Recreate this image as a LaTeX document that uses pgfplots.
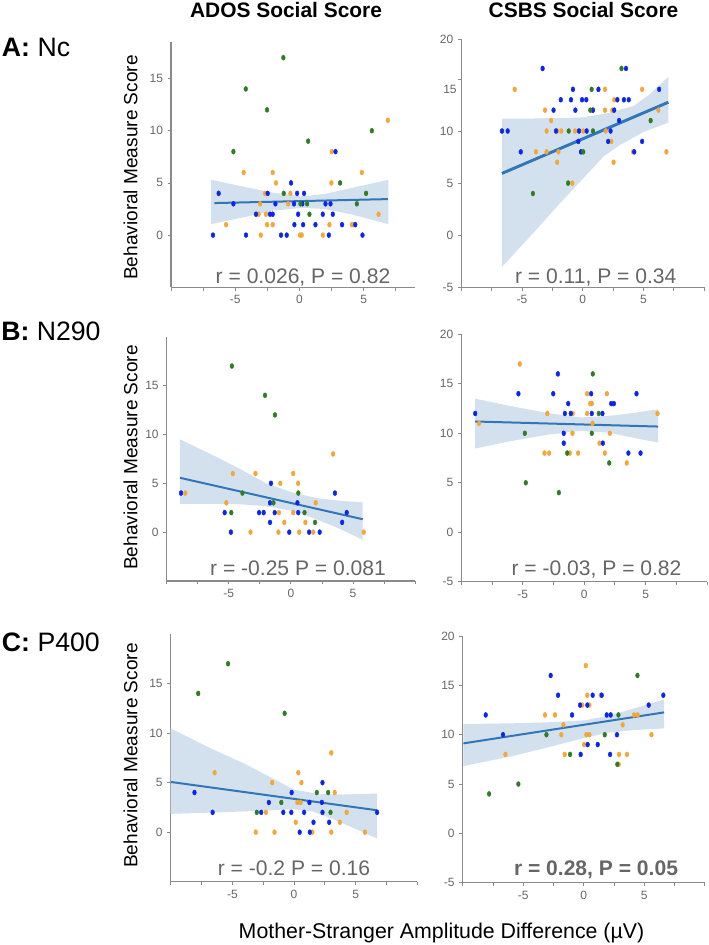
\documentclass[border=0pt]{standalone}
\usepackage{pgfplots}
\pgfplotsset{compat=1.18}
\usepackage{fontspec}
\setmainfont{Liberation Sans}
\definecolor{dotblue}{HTML}{0A24F2}
\definecolor{dotorange}{HTML}{F4A636}
\definecolor{dotgreen}{HTML}{2E7D24}
\definecolor{regline}{HTML}{3176B6}
\definecolor{bandc}{HTML}{D3E1EF}
\definecolor{ticktext}{HTML}{666666}
\definecolor{spine}{HTML}{8A8A8A}
\pgfplotsset{
  panel/.style={
    scale only axis,
    anchor=south west,
    axis lines*=left,
    axis line style={spine, line width=0.8pt},
    tick style={spine, line width=0.6pt},
    tick align=outside,
    major tick length=2.5pt,
    xmin=-10, xmax=10, ymin=-5, ymax=20,
    xtick={-5,0,5}, xticklabels={-5,0,5},
    extra x ticks={-10,-7.5,-2.5,2.5,7.5,10},
    extra x tick labels={,,,,,},
    ticklabel style={font=\fontsize{9}{10}\selectfont, text=ticktext},
  },
  leftp/.style={ytick={0,5,10,15}, yticklabels={0,5,10,15}},
  rightp/.style={ytick={-5,0,5,10,15,20}, yticklabels={-5,0,5,10,15,20}},
  dotsb/.style={only marks, color=dotblue, mark=*, mark size=1.4pt, mark options={draw=dotblue, fill=dotblue, line width=0.3pt, yscale=1.35}},
  dotso/.style={only marks, color=dotorange, mark=*, mark size=1.4pt, mark options={draw=dotorange, fill=dotorange, line width=0.3pt, yscale=1.35}},
  dotsg/.style={only marks, color=dotgreen, mark=*, mark size=1.4pt, mark options={draw=dotgreen, fill=dotgreen, line width=0.3pt, yscale=1.35}},
  bandst/.style={fill=bandc, draw=none},
  regst/.style={regline, line width=1.5pt, no marks},
}
\begin{document}
\begin{tikzpicture}
\useasboundingbox (0pt,0pt) rectangle (531pt,-708.75pt);

% ---------------- A left: ADOS, Nc
\begin{axis}[panel, leftp, at={(128.25pt,-215.48pt)}, width=183pt, height=183.98pt, xmax=9, ymax=18.5]
\addplot[bandst] coordinates {(-6.88,5.3) (-4,4.55) (-2,4.05) (0.3,3.72) (2,3.95) (4,4.5) (6.93,5.3)
  (6.93,1.05) (4,2.0) (2,2.5) (0.3,2.62) (-2,2.35) (-4,1.8) (-6.88,1.05)} -- cycle;
\addplot[dotso] coordinates {(-4.34,6) (-2.08,6) (-1.82,5) (2.52,8) (2.49,5) (-5.71,1) (-2.68,4) (-3.06,3) (-3.17,2) (-2.60,2) (-2.52,1) (-2.08,1) (-3.01,0) (-0.70,4) (-0.88,3) (0.05,0) (0.18,0) (1.82,0) (2.34,1) (4.08,1) (4.86,6) (6.88,11) (6.16,2) (4.2,1)};
\addplot[dotsb] coordinates {(-6.73,0) (-6.29,4) (-5.14,3) (-4.16,0) (-3.38,2) (-2.47,4) (-2.29,2) (-2.08,2) (-1.87,3) (-1.43,0) (-0.99,0) (-0.65,5) (-0.42,3) (-0.39,1) (-0.18,4) (-0.10,2) (0.36,4) (0.23,3) (0.29,1) (1.25,1) (1.82,2) (2.03,3) (2.42,3) (2.29,0) (2.60,2) (2.81,8) (3.32,1) (4.91,0) (4.35,1)};
\addplot[dotsg] coordinates {(-1.25,17) (-4.18,14) (-2.52,12) (-5.14,8) (0.68,9) (3.17,5) (-1.22,4) (0.08,3) (0.60,3) (0.78,2) (5.64,10) (5.19,4) (4.47,3)};
\addplot[regst] coordinates {(-6.62,3.07) (6.88,3.45)};
\end{axis}

% ---------------- A right: CSBS, Nc
\begin{axis}[panel, at={(345.98pt,-215.48pt)}, width=182.03pt, height=186pt, ymax=18.8,
  ytick={-5,0,5,10,15,18.8}, yticklabels={-5,0,5,10,,20},
  extra y ticks={14}, extra y tick labels={15}, extra y tick style={major tick length=0pt}]
\addplot[bandst] coordinates {(-6.65,11.2) (-4,11.2) (-2,11.25) (0,11.3) (2,11.7) (4.2,12.4) (5.5,13.5) (7.06,15.2)
  (7.06,10.8) (5,9.9) (3,8.6) (1.76,7.6) (0,5.4) (-2,2.9) (-4,0.3) (-6.65,-3.05)} -- cycle;
\addplot[dotso] coordinates {(-5.6,14) (-3.85,8) (-3.1,12) (-2.97,10) (-2.97,8) (-2.6,11) (-2.1,10) (-2.1,7) (-2.0,8) (-1.76,10) (-0.85,5) (-0.63,10) (-0.05,8) (0.05,10) (0.8,12) (1.84,14) (1.84,12) (1.9,10) (2.36,9) (2.55,7) (2.6,13) (2.44,12) (4.15,8) (4.9,14) (6.24,12) (6.9,8)};
\addplot[dotsb] coordinates {(-6.65,10) (-6.18,10) (-5.1,8) (-3.3,16) (-2.4,12) (-2.2,10) (-1.8,13) (-0.96,13) (-0.8,14) (-0.6,12) (-0.36,9) (-0.3,10) (-0.14,8) (-0.05,13) (0.3,13) (0.33,10) (0.85,12) (1.3,14) (2.1,9) (2.3,10) (2.6,12) (2.86,13) (3.0,11) (3.4,13) (3.57,16) (3.8,13) (4.25,8) (4.9,9) (6.3,14)};
\addplot[dotsg] coordinates {(-4.1,4) (-1.2,5) (-1.15,10) (0.05,8) (0.63,12) (0.74,14) (0.85,10) (3.2,16) (5.6,11)};
\addplot[regst, line width=2.2pt] coordinates {(-6.65,5.93) (7.06,12.76)};
\end{axis}

% ---------------- B left: ADOS, N290
\begin{axis}[panel, leftp, at={(125.03pt,-435.75pt)}, width=186.23pt, height=183.23pt]
\addplot[bandst] coordinates {(-8.93,9.5) (-6,7.7) (-4,6.4) (-2,5.0) (0,4.1) (2,3.5) (4,3.2) (5.79,3.05)
  (5.79,-0.78) (4,0.3) (2,1.35) (0,2.2) (-2,2.65) (-4,2.85) (-6,2.9) (-8.93,2.88)} -- cycle;
\addplot[dotso] coordinates {(-8.5,4) (-4.67,6) (-2.85,6) (-5.2,3) (-0.85,5) (-0.96,2) (-0.53,1) (-1.0,0) (-3.25,0) (0.19,6) (0.59,5) (0.19,2) (1.17,1) (0.67,0) (1.8,0) (2.0,3) (3.4,8) (5.87,0)};
\addplot[dotsb] coordinates {(-8.85,4) (-5.33,2) (-4.83,0) (-2.56,2) (-2.19,2) (-1.6,5) (-1.68,3) (-1.3,2) (-1.68,1) (-0.13,0) (0.53,3) (0.59,2) (1.47,0) (2.32,0) (3.55,4) (4.13,1) (4.5,2)};
\addplot[dotsg] coordinates {(-4.75,17) (-2.08,14) (-1.28,12) (-3.9,4) (-4.8,2) (-1.4,3) (0.6,4) (1.1,2) (1.95,1)};
\addplot[regst] coordinates {(-8.93,5.56) (5.79,1.32)};
\end{axis}

% ---------------- B right: CSBS, N290
\begin{axis}[panel, rightp, at={(345.98pt,-436.28pt)}, width=184.28pt, height=185.55pt]
\addplot[bandst] coordinates {(-8.87,13.5) (-6,12.75) (-3,12.05) (-0.3,11.6) (2,11.75) (4,12.05) (6.02,12.43)
  (6.02,9.06) (4,9.55) (2,10.05) (-0.3,10.25) (-3,9.85) (-6,9.2) (-8.87,8.46)} -- cycle;
\addplot[dotso] coordinates {(-5.24,17) (-8.55,11) (-3.0,12) (-3.23,8) (-2.85,8) (-0.92,12) (-0.95,10) (-1.17,8) (-0.49,8) (0.24,14) (0.24,12) (0.49,13) (0.62,13) (0.68,11) (1.25,9) (1.68,8) (1.85,14) (2.09,10) (3.47,7) (5.97,12)};
\addplot[dotsb] coordinates {(-8.87,12) (-5.35,14) (-2.14,16) (-2.52,14) (-1.3,13) (-1.57,12) (-1.09,12) (-1.66,10) (-1.66,9) (0.57,14) (0.62,12) (1.49,12) (1.52,9) (2.2,13) (2.42,13) (3.6,8) (4.26,14) (4.59,8)};
\addplot[dotsg] coordinates {(0.7,16) (-4.83,10) (-4.75,5) (-2.06,4) (-1.38,8) (0.62,10) (1.19,12) (2.04,7)};
\addplot[regst] coordinates {(-8.87,11.19) (6.02,10.68)};
\end{axis}

% ---------------- C left: ADOS, P400
\begin{axis}[panel, leftp, at={(128.03pt,-661.28pt)}, width=184.95pt, height=185.78pt]
\addplot[bandst] coordinates {(-10,10.47) (-7,8.6) (-4,6.9) (-2,5.6) (0,4.3) (2,3.85) (4,3.8) (6.74,3.9)
  (6.74,-0.64) (4.5,0.6) (3,1.4) (1.5,2.1) (0,2.3) (-2,2.2) (-6,2.0) (-10,1.85)} -- cycle;
\addplot[dotso] coordinates {(-6.44,6) (-1.77,5) (0.35,6) (0.6,5) (0.27,3) (0.54,3) (-3.1,0) (-1.58,0) (-2.28,2) (0.14,1) (1.49,0) (3.02,8) (3.3,4) (3.72,1) (3.02,0) (4.27,2) (5.76,0)};
\addplot[dotsb] coordinates {(-8.07,4) (-6.6,2) (-2.66,2) (-2.04,3) (-0.87,2) (-0.19,4) (-0.22,2) (0.46,0) (0.82,2) (1.25,3) (1.28,0) (1.58,1) (2.31,5) (2.26,3) (2.31,2) (2.85,1) (6.74,2)};
\addplot[dotsg] coordinates {(-5.35,17) (-7.77,14) (-0.76,12) (-3.02,2) (-1.03,3) (1.85,4) (2.77,4) (2.96,2)};
\addplot[regst] coordinates {(-10,5.07) (6.74,2.21)};
\end{axis}

% ---------------- C right: CSBS, P400
\begin{axis}[panel, rightp, at={(347.03pt,-662.03pt)}, width=181.5pt, height=185.03pt]
\addplot[bandst] coordinates {(-9.94,11.08) (-6,11.15) (-3,11.25) (0,11.45) (2,11.9) (4,12.6) (6.64,13.58)
  (6.64,10.64) (4,10.45) (2,10.2) (0,9.65) (-3,8.7) (-6,7.8) (-9.94,6.82)} -- cycle;
\addplot[dotso] coordinates {(-6.47,8) (-3.2,12) (-2.37,12) (-1.68,11) (-1.85,10) (-1.57,8) (-0.11,13) (0.17,17) (0.3,14) (0.03,9) (0.22,10) (0.47,10) (0.47,13) (1.4,14) (2.89,7) (2.92,8) (3.22,11) (3.58,8) (4.16,12) (4.46,12) (5.6,10)};
\addplot[dotsb] coordinates {(-8.1,12) (-6.67,10) (-2.73,16) (-2.12,14) (-0.96,12) (-0.3,13) (-0.25,8) (0.3,13) (0.33,9) (0.74,14) (1.16,9) (1.49,14) (1.9,12) (2.23,12) (2.18,8) (2.75,10) (5.37,13) (6.58,14)};
\addplot[dotsg] coordinates {(-7.82,4) (-5.4,5) (-3.08,10) (-1.13,8) (1.74,10) (2.78,7) (2.87,12) (4.44,16)};
\addplot[regst] coordinates {(-9.94,9.12) (6.64,12.26)};
\end{axis}

% ---------------- texts
\node[anchor=base, font=\fontsize{15.7}{18}\selectfont\bfseries] at (214.5pt,-12.98pt) {ADOS Social Score};
\node[anchor=base, font=\fontsize{15.7}{18}\selectfont\bfseries] at (437.63pt,-12.98pt) {CSBS Social Score};

\node[anchor=base west, inner sep=0pt, font=\fontsize{20}{24}\selectfont] at (1.28pt,-42.53pt) {\textbf{A:} Nc};
\node[anchor=base west, inner sep=0pt, font=\fontsize{20}{24}\selectfont] at (0.75pt,-255pt) {\textbf{B:} N290};
\node[anchor=base west, inner sep=0pt, font=\fontsize{20}{24}\selectfont] at (1.28pt,-488.78pt) {\textbf{C:} P400};

\node[anchor=base, rotate=90, inner sep=0pt, font=\fontsize{14.3}{17}\selectfont] at (102.98pt,-125.63pt) {Behavioral Measure Score};
\node[anchor=base, rotate=90, inner sep=0pt, font=\fontsize{14.3}{17}\selectfont] at (102.98pt,-343.13pt) {Behavioral Measure Score};
\node[anchor=base, rotate=90, inner sep=0pt, font=\fontsize{14.3}{17}\selectfont] at (102.98pt,-566.63pt) {Behavioral Measure Score};

\node[anchor=base, inner sep=0pt, text=ticktext, font=\fontsize{15.8}{18}\selectfont] at (227.25pt,-212.48pt) {r = 0.026, P = 0.82};
\node[anchor=base, inner sep=0pt, text=ticktext, font=\fontsize{15.8}{18}\selectfont] at (446.78pt,-212.48pt) {r = 0.11, P = 0.34};
\node[anchor=base, inner sep=0pt, text=ticktext, font=\fontsize{15.8}{18}\selectfont] at (223.5pt,-431.25pt) {r = -0.25 P = 0.081};
\node[anchor=base, inner sep=0pt, text=ticktext, font=\fontsize{15.8}{18}\selectfont] at (447.38pt,-431.25pt) {r = -0.03, P = 0.82};
\node[anchor=base, inner sep=0pt, text=ticktext, font=\fontsize{15.8}{18}\selectfont] at (220.5pt,-656.25pt) {r = -0.2 P = 0.16};
\node[anchor=base, inner sep=0pt, text=ticktext, font=\fontsize{15.8}{18}\selectfont\bfseries] at (447pt,-656.25pt) {r = 0.28, P = 0.05};

\node[anchor=base, inner sep=0pt, font=\fontsize{16}{19}\selectfont] at (331.13pt,-703.5pt) {Mother-Stranger Amplitude Difference (µV)};
\end{tikzpicture}
\end{document}
